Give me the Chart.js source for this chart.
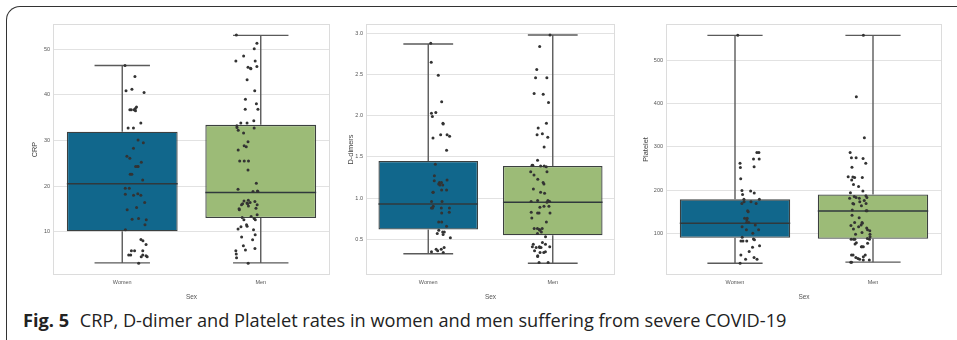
<!DOCTYPE html>
<html>
<head>
<meta charset="utf-8">
<script src="https://cdn.jsdelivr.net/npm/chart.js@4"></script>
<style>
    html, body { margin: 0; padding: 0; background: #fff; }
    body { width: 957px; height: 340px; position: relative; overflow: hidden; }
    .frame {
        position: absolute; left: 6px; top: 6px; width: 990px; height: 360px;
        border-top: 1.5px solid #333; border-left: 1.5px solid #333;
        border-top-left-radius: 14px;
    }
    canvas { position: absolute; top: 0; }
    .caption {
        position: absolute; left: 23px; top: 308px;
        font-family: 'Open Sans', sans-serif; font-size: 18.2px; color: #222;
        white-space: nowrap;
    }
    .caption b { margin-right: 6px; }
</style>
</head>
<body>
<div class="frame"></div>
<canvas id="crpChart" width="304" height="301" style="left:31px"></canvas>
<canvas id="ddimerChart" width="273" height="301" style="left:347px"></canvas>
<canvas id="plateletChart" width="305" height="301" style="left:642px"></canvas>
<div class="caption"><b>Fig. 5</b> CRP, D-dimer and Platelet rates in women and men suffering from severe COVID-19</div>

<script>
// Categorías
const categories = ['Women', 'Men'];

// CRP
const crpWomen = [46.4, 44.0, 41.2, 40.9, 40.5, 36.7, 37.3, 37.0, 36.5, 36.7, 36.7, 33.8, 32.7, 32.7, 30.1, 29.5, 28.3, 26.5, 26.1, 25.2, 24.3, 24.3, 24.3, 22.6, 22.6, 21.3, 19.5, 19.5, 18.3, 18.0, 18.2, 18.0, 16.4, 15.3, 14.8, 12.9, 12.6, 12.7, 11.5, 10.4, 8.3, 8.0, 7.2, 5.8, 4.9, 4.9, 4.7, 4.5, 4.5, 5.8, 5.8, 4.9, 3.1];
const crpMen = [53.1, 51.3, 50.1, 48.5, 47.4, 47.4, 45.8, 46.2, 46.0, 45.7, 43.3, 40.9, 39.0, 38.0, 36.8, 36.8, 34.3, 33.8, 33.8, 33.2, 32.8, 32.7, 32.2, 31.6, 29.7, 28.8, 28.6, 27.9, 25.5, 25.5, 25.5, 23.5, 20.6, 19.3, 18.9, 18.8, 18.8, 16.9, 16.7, 16.6, 16.4, 16.3, 16.1, 16.1, 15.9, 15.9, 15.6, 15.1, 15.0, 14.8, 13.7, 13.3, 13.1, 12.9, 12.6, 12.6, 11.5, 11.2, 11.1, 10.6, 10.4, 9.3, 8.8, 8.2, 6.9, 6.3, 6.0, 5.8, 5.1, 4.3, 3.1];
const crpLow = [3.15, 3.15];
const crpQ1 = [10.1, 13.0];
const crpMedian = [20.5, 18.6];
const crpQ3 = [31.9, 33.4];
const crpHigh = [46.4, 53.0];
const crpTicks = [10, 20, 30, 40, 50];

// D-dímero
const ddimerWomen = [2.88, 2.65, 2.49, 2.17, 2.04, 2.03, 1.99, 1.91, 1.90, 1.77, 1.77, 1.75, 1.73, 1.58, 1.41, 1.27, 1.19, 1.21, 1.22, 1.19, 1.16, 1.10, 1.10, 1.17, 1.16, 1.07, 1.07, 0.96, 0.96, 0.90, 0.88, 0.88, 0.88, 0.88, 0.83, 0.82, 0.71, 0.71, 0.66, 0.61, 0.59, 0.59, 0.56, 0.57, 0.52, 0.40, 0.38, 0.36, 0.38, 0.35, 0.34];
const ddimerMen = [2.98, 2.84, 2.56, 2.46, 2.46, 2.27, 2.26, 2.16, 1.85, 1.91, 1.78, 1.74, 1.77, 1.62, 1.46, 1.40, 1.40, 1.38, 1.39, 1.39, 1.32, 1.23, 1.32, 1.28, 1.17, 1.19, 1.11, 1.07, 1.06, 0.96, 0.97, 0.97, 0.95, 0.96, 0.89, 0.90, 0.90, 0.82, 0.82, 0.82, 0.83, 0.76, 0.71, 0.63, 0.62, 0.61, 0.63, 0.63, 0.59, 0.57, 0.53, 0.46, 0.41, 0.40, 0.44, 0.41, 0.44, 0.40, 0.40, 0.41, 0.36, 0.35, 0.34, 0.30, 0.29, 0.34, 0.22, 0.22];
const ddimerLow = [0.325, 0.21];
const ddimerQ1 = [0.62, 0.55];
const ddimerMedian = [0.93, 0.95];
const ddimerQ3 = [1.45, 1.39];
const ddimerHigh = [2.87, 2.98];
const ddimerTicks = [0.5, 1.0, 1.5, 2.0, 2.5, 3.0];

// Plaquetas
const plateletWomen = [558, 287, 287, 272, 272, 262, 254, 252, 226, 198, 199, 190, 193, 179, 179, 173, 169, 173, 169, 150, 152, 131, 119, 135, 135, 125, 125, 115, 108, 108, 100, 91, 87, 85, 82, 82, 82, 71, 68, 58, 50, 40, 44, 40, 31];
const plateletMen = [558, 416, 321, 287, 275, 275, 273, 262, 253, 229, 223, 231, 230, 229, 213, 208, 198, 194, 187, 181, 185, 183, 183, 181, 176, 173, 169, 168, 169, 164, 154, 152, 152, 142, 136, 125, 123, 119, 115, 118, 125, 110, 112, 106, 108, 102, 98, 98, 92, 88, 86, 86, 86, 86, 78, 77, 75, 69, 69, 69, 50, 46, 50, 50, 42, 44, 38, 40, 38, 33, 33];
const plateletLow = [30.6, 33.3];
const plateletQ1 = [89.8, 87.5];
const plateletMedian = [123, 151.6];
const plateletQ3 = [178.5, 190];
const plateletHigh = [557.8, 557.8];
const plateletTicks = [100, 200, 300, 400, 500];

const boxColors = ['#11678c', '#9cbb77'];
const narrowFont = 'Liberation Sans Narrow, Liberation Sans, sans-serif';

// Generador simple para el jitter horizontal de los puntos
function makeJitter(seed) {
    let s = seed;
    return () => {
        s = (s * 16807) % 2147483647;
        return ((s / 2147483647) * 2 - 1) * 0.1;
    };
}

// Plugin: bigotes, medianas y marco del área
function makeBoxPlugin(stats) {
    return {
        id: 'boxParts',
        beforeDatasetsDraw(chart) {
            const { ctx, chartArea } = chart;
            ctx.save();
            ctx.strokeStyle = '#dcdcdc';
            ctx.lineWidth = 1;
            ctx.strokeRect(chartArea.left + 0.5, chartArea.top + 0.5, chartArea.width - 1, chartArea.height - 1);
            ctx.restore();
        },
        beforeDatasetDraw(chart, args) {
            if (args.index !== 0) return;
            const { ctx } = chart;
            const x = chart.scales.x;
            const y = chart.scales.y;
            const band = x.width / categories.length;
            const line = (x1, y1, x2, y2) => {
                ctx.beginPath();
                ctx.moveTo(x1, y1);
                ctx.lineTo(x2, y2);
                ctx.stroke();
            };
            ctx.save();
            categories.forEach((c, i) => {
                const cx = x.getPixelForValue(i);
                const capHalf = band * 0.2;
                const boxHalf = band * 0.4;
                const yLow = y.getPixelForValue(stats.low[i]);
                const yHigh = y.getPixelForValue(stats.high[i]);
                ctx.strokeStyle = '#5a5a5a';
                ctx.lineWidth = 1.4;
                line(cx, y.getPixelForValue(stats.q3[i]), cx, yHigh);
                line(cx, y.getPixelForValue(stats.q1[i]), cx, yLow);
                line(cx - capHalf, yHigh, cx + capHalf, yHigh);
                line(cx - capHalf, yLow, cx + capHalf, yLow);
                const ym = y.getPixelForValue(stats.median[i]);
                ctx.strokeStyle = '#30393c';
                ctx.lineWidth = 1.5;
                line(cx - boxHalf, ym, cx + boxHalf, ym);
            });
            ctx.restore();
        }
    };
}

// Función para crear cada panel
function makePanel(id, p) {
    const jitter = makeJitter(p.seed);
    const points = [];
    [p.women, p.men].forEach((vals, i) => {
        vals.forEach(v => points.push({ x: i + jitter(), y: v }));
    });

    new Chart(document.getElementById(id), {
        type: 'bar',
        data: {
            labels: categories,
            datasets: [
                {
                    type: 'scatter',
                    xAxisID: 'xs',
                    data: points,
                    pointRadius: 1.5,
                    pointBackgroundColor: '#333',
                    pointBorderWidth: 0,
                },
                {
                    data: categories.map((c, i) => [p.stats.q1[i], p.stats.q3[i]]),
                    backgroundColor: boxColors,
                    borderColor: '#3c4040',
                    borderWidth: 1.3,
                    borderSkipped: false,
                    grouped: false,
                    barPercentage: 0.8,
                    categoryPercentage: 1,
                }
            ]
        },
        options: {
            responsive: false,
            animation: false,
            layout: { padding: { left: 0, top: 24, right: p.right, bottom: 0 } },
            plugins: {
                legend: { display: false },
                tooltip: { enabled: false },
            },
            scales: {
                x: {
                    type: 'category',
                    grid: { display: false, drawTicks: false },
                    border: { display: false },
                    ticks: { font: { family: narrowFont, size: 5.5 }, color: '#555', padding: 4 },
                    title: { display: true, text: 'Sex', font: { family: narrowFont, size: 6.5 }, color: '#555', padding: 0 },
                    afterFit: s => { s.height = 26; },
                },
                xs: { type: 'linear', display: false, min: -0.5, max: 1.5 },
                y: {
                    min: p.min,
                    max: p.max,
                    afterBuildTicks: s => { s.ticks = p.ticks.map(v => ({ value: v })); },
                    grid: { color: '#e2e2e2', drawTicks: false, lineWidth: 1 },
                    border: { display: false },
                    ticks: {
                        font: { family: narrowFont, size: 5.5 },
                        color: '#555',
                        padding: 3,
                        callback: v => v.toFixed(p.decimals),
                    },
                    title: { display: true, text: p.title, font: { family: 'Liberation Sans', size: 7.4 }, color: '#444', padding: 0 },
                    afterFit: s => { s.width = p.yWidth; },
                }
            }
        },
        plugins: [makeBoxPlugin(p.stats)]
    });
}

function init() {
    makePanel('crpChart', {
        title: 'CRP', women: crpWomen, men: crpMen, seed: 11,
        stats: { low: crpLow, q1: crpQ1, median: crpMedian, q3: crpQ3, high: crpHigh },
        min: 0.5, max: 55.5, ticks: crpTicks, decimals: 0, yWidth: 22, right: 5,
    });
    makePanel('ddimerChart', {
        title: 'D-dimers', women: ddimerWomen, men: ddimerMen, seed: 23,
        stats: { low: ddimerLow, q1: ddimerQ1, median: ddimerMedian, q3: ddimerQ3, high: ddimerHigh },
        min: 0.067, max: 3.113, ticks: ddimerTicks, decimals: 1, yWidth: 19, right: 5,
    });
    makePanel('plateletChart', {
        title: 'Platelet', women: plateletWomen, men: plateletMen, seed: 37,
        stats: { low: plateletLow, q1: plateletQ1, median: plateletMedian, q3: plateletQ3, high: plateletHigh },
        min: 3.6, max: 584, ticks: plateletTicks, decimals: 0, yWidth: 24, right: 5,
    });
}

document.addEventListener('DOMContentLoaded', init);
</script>
</body>
</html>
